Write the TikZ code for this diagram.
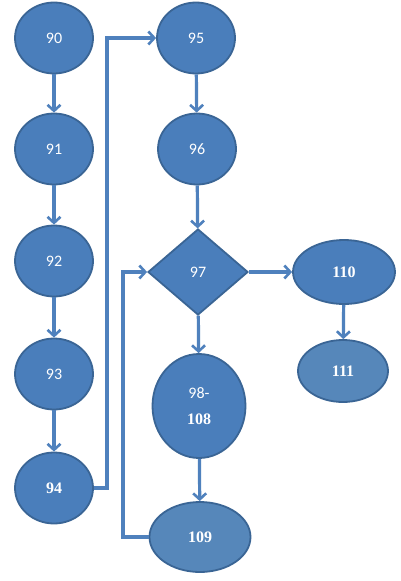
\documentclass[tikz,border=0pt]{standalone}
\usepackage{fontspec}
\setmainfont{Carlito}
\newfontfamily\numserif{Liberation Serif}
\usetikzlibrary{shapes.geometric,arrows.meta}
\definecolor{nodefill}{HTML}{4A7EBB}
\definecolor{nodefillb}{HTML}{5687BA}
\definecolor{nodeline}{HTML}{3A6595}
\definecolor{flowline}{HTML}{4F81BD}
\begin{document}
\begin{tikzpicture}[x=1pt,y=-1pt,
  blob/.style={ellipse,draw=nodeline,fill=nodefill,line width=1.8pt,
    text=white,font=\fontsize{16}{17}\selectfont,inner sep=0pt,
    minimum width=78pt,minimum height=71pt},
  pale/.style={fill=nodefillb},
  serifnum/.style={font=\numserif\bfseries\fontsize{16}{17}\selectfont},
  decision/.style={diamond,draw=nodeline,fill=nodefill,line width=1.8pt,
    text=white,font=\fontsize{16}{17}\selectfont,inner sep=0pt,
    minimum width=100pt,minimum height=86pt,aspect=1.16},
  flow/.style={draw=flowline,line width=3.2pt,
    -{Straight Barb[length=6pt,width=13pt,line width=2.6pt]}}]
  \useasboundingbox (0,0) rectangle (401,581);
  \fill[white] (0,0) rectangle (401,581);

  % left column
  \node[blob] (n90) at (54,38) {90};
  \node[blob] (n91) at (54,149) {91};
  \node[blob] (n92) at (54,261) {92};
  \node[blob] (n93) at (54,374) {93};
  \node[blob,serifnum] (n94) at (54,488) {94};

  % middle column
  \node[blob] (n95) at (196,38) {95};
  \node[blob] (n96) at (197,149) {96};
  \node[decision] (n97) at (198,272) {97};
  \node[blob,minimum width=93pt,minimum height=104pt,align=center]
    (n98) at (199,406) {98-\\[9pt]{\numserif\bfseries 108}};
  \node[blob,pale,serifnum,minimum width=101pt,minimum height=70pt]
    (n109) at (200,537) {109};

  % right column
  \node[blob,serifnum,minimum width=102pt,minimum height=64pt]
    (n110) at (344,272) {110};
  \node[blob,pale,serifnum,minimum width=90pt,minimum height=62pt]
    (n111) at (343,371) {111};

  \coordinate (up94) at (107,488);
  \coordinate (up109) at (123,537);

  \draw[flow] (n90) -- (n91);
  \draw[flow] (n91) -- (n92);
  \draw[flow] (n92) -- (n93);
  \draw[flow] (n93) -- (n94);
  \draw[flow] (n94.east) -- (up94) |- (n95.west);
  \draw[flow] (n95) -- (n96);
  \draw[flow] (n96) -- (n97);
  \draw[flow] (n97) -- (n110);
  \draw[flow] (n110) -- (n111);
  \draw[flow] (n97) -- (n98);
  \draw[flow] (n98) -- (n109);
  \draw[flow] (n109.west) -- (up109) |- (n97.west);
\end{tikzpicture}
\end{document}
